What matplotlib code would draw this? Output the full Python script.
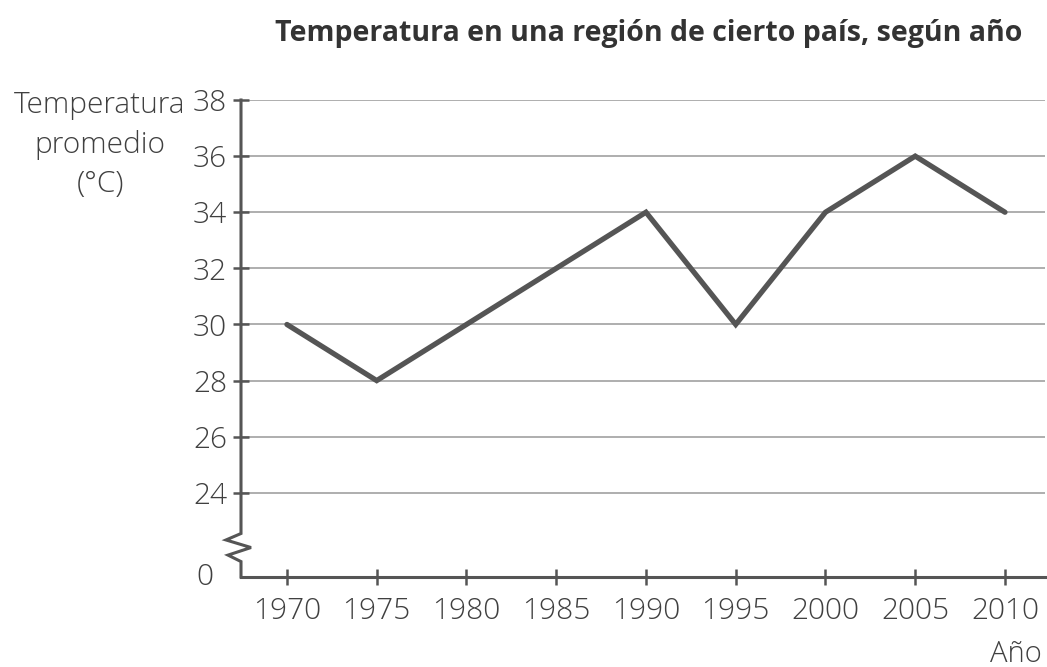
import matplotlib
matplotlib.use("Agg")
import matplotlib.pyplot as plt
from matplotlib.transforms import blended_transform_factory

years = [1970, 1975, 1980, 1985, 1990, 1995, 2000, 2005, 2010]
temps = [30, 28, 30, 32, 34, 30, 34, 36, 34]
ytick_vals = [24, 26, 28, 30, 32, 34, 36, 38]
title = "Temperatura en una región de cierto país, según año"
ylabel = "Temperatura\npromedio\n(°C)"
xlabel = "Año"

ZERO_POS = 21  # position on the broken axis where 0 is drawn

plt.rcParams['font.family'] = ['Open Sans', 'DejaVu Sans']
fig = plt.figure(figsize=(10.47, 6.67), dpi=100)
ax = fig.add_axes([241/1047, 1 - 577/667, (1045 - 241)/1047, (577 - 100)/667])

ax.set_xlim(1967.44, 2012.23)
ax.set_ylim(ZERO_POS, 38)

for v in ytick_vals:
    ax.axhline(v, color='#999999', lw=1.1, zorder=1)

ax.plot(years, temps, color='#555555', lw=3.8, solid_capstyle='round',
        solid_joinstyle='miter', zorder=3)

for s in ['top', 'right', 'left']:
    ax.spines[s].set_visible(False)
ax.spines['bottom'].set_color('#555555')
ax.spines['bottom'].set_linewidth(2.2)

ax.set_xticks(years)
ax.set_xticklabels([str(y) for y in years])
ax.set_yticks([ZERO_POS] + ytick_vals)
ax.set_yticklabels([''] + [str(v) for v in ytick_vals])
ax.tick_params(axis='both', direction='inout', length=12, width=1.8,
               color='#555555', labelsize=21.5, labelcolor='#404040')
ax.tick_params(axis='x', pad=8)
ax.tick_params(axis='y', pad=4)
for lab in ax.get_xticklabels() + ax.get_yticklabels():
    lab.set_fontweight('light')
ax.yaxis.get_major_ticks()[0].tick1line.set_visible(False)

tr = blended_transform_factory(ax.transAxes, ax.transData)
ax.annotate('0', xy=(0, ZERO_POS), xycoords=tr, xytext=(-26, 0),
            textcoords='offset points', ha='center', va='center',
            fontsize=21.5, fontweight='light', color='#404040')

# left spine with break
w = 1 / 804
bx = [0, 0, -15*w, 10*w, -13*w, 0, 0]
by = [38, 22.55, 22.32, 22.05, 21.78, 21.55, ZERO_POS]
ax.plot(bx, by, transform=tr, color='#555555', lw=2.2, clip_on=False,
        solid_joinstyle='miter', zorder=4)

fig.text(0.620, 0.950, title, ha='center', va='center', fontsize=20.5,
         fontweight='bold', color='#333333')
fig.text(100/1047, 1 - 145/667, ylabel, ha='center', va='center', fontsize=21.5,
         fontweight='light', color='#404040', linespacing=1.42)
fig.text(1042/1047, 1 - 662/667, xlabel, ha='right', va='baseline', fontsize=21,
         fontweight='light', color='#404040')

fig.savefig("out.png", dpi=100)
